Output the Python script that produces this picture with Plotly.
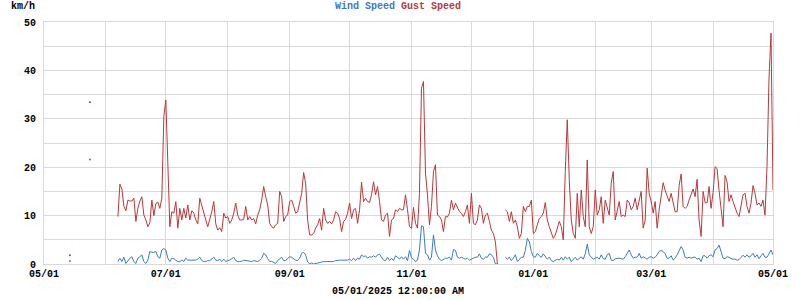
import plotly.graph_objects as go
import pandas as pd

START_DATE = "2024-05-01"
END_DATE = "2025-05-01"
TITLE_WIND = "Wind Speed"
TITLE_GUST = "Gust Speed"
UNIT_LABEL = "km/h"
FOOTER = "05/01/2025 12:00:00 AM"

# Daily gust speed (km/h), one entry per day from 2024-05-01 to 2025-05-01
gust_may = [None]*13 + [1.8] + [None]*9 + [33.4] + [None]*7
gust_jun = [None]*6 + [9.8, 16.5, 15.5, 11.9, 11.0, 13.2, 13.0, 13.0, 13.6, 8.8, 11.5, 13.0, 13.9, 10.1,
            9.1, 7.7, 8.5, 13.2, 10.0, 12.5, 12.8, 11.5, 13.6, 30.5]
gust_jul = [33.9, 19.0, 7.7, 10.8, 10.5, 12.9, 7.4, 11.5, 9.1, 11.5, 9.5, 12.2, 9.1, 11.0, 10.5, 9.1,
            8.3, 13.6, 11.9, 10.5, 9.1, 7.7, 9.1, 10.8, 12.9, 8.3, 7.0, 7.5, 6.7, 10.5, 9.5]
gust_aug = [9.8, 8.4, 9.1, 10.5, 12.6, 10.1, 9.1, 9.1, 9.2, 11.9, 9.1, 9.8, 9.1, 9.4, 8.3, 10.1,
            11.2, 13.2, 16.0, 13.9, 12.2, 8.4, 7.7, 7.4, 8.1, 8.4, 15.0, 13.9, 8.8, 9.8, 10.1]
gust_sep = [12.9, 13.2, 11.9, 10.5, 10.8, 12.6, 14.6, 18.9, 16.7, 9.1, 6.0, 6.0, 6.3, 7.4, 8.1, 9.4,
            7.0, 11.5, 9.1, 8.4, 8.8, 8.3, 9.1, 10.8, 10.5, 9.4, 6.7, 8.8, 9.2, 10.5]
gust_oct = [12.6, 9.4, 11.2, 11.5, 8.4, 11.2, 16.9, 12.9, 13.6, 12.9, 12.7, 14.3, 17.0, 14.3, 16.0, 12.9,
            9.1, 8.8, 10.1, 10.5, 5.7, 9.1, 9.4, 11.2, 10.8, 11.5, 11.2, 11.2, 14.3, 11.2, 7.7]
gust_nov = [7.4, 11.7, 8.4, 7.4, 14.6, 36.3, 37.7, 18.8, 14.3, 8.1, 11.9, 19.1, 20.5, 10.1, 9.8, 9.1,
            6.7, 9.8, 9.7, 10.5, 13.2, 11.2, 12.6, 11.5, 10.8, 10.5, 9.8, 10.8, 12.2, 8.4]
gust_dec = [14.6, 8.4, 8.1, 9.1, 12.2, 11.5, 8.4, 10.1, 10.5, 8.8, 7.0, 6.3, 4.6, 0.0, None, None, None,
            11.2, 10.8, 8.8, 10.8, 8.4, 9.1, 7.7, 5.3, 6.3, 11.9, 10.8, 11.9, 11.9, 13.2]
gust_jan = [6.3, 6.7, 8.1, 9.4, 9.8, 10.5, 12.7, 9.1, 7.7, 6.3, 5.3, 6.0, 7.4, 8.8, 7.7, 5.0,
            19.1, 29.8, 17.4, 9.1, 6.3, 5.3, 14.6, 7.7, 15.3, 9.8, 7.7, 21.5, 7.7, 6.3, 7.7]
gust_feb = [15.3, 10.1, 11.2, 13.9, 8.4, 13.2, 11.9, 10.1, 16.7, 19.1, 9.1, 11.2, 12.9, 9.8, 10.1, 9.8,
            13.2, 12.7, 11.2, 11.9, 13.6, 11.2, 13.2, 15.0, 7.4, 9.1, 19.8, 14.6]
gust_mar = [12.9, 10.5, 12.9, 7.4, 11.2, 14.6, 16.8, 15.2, 13.9, 12.9, 14.6, 12.6, 10.8, 10.8, 16.2, 18.6,
            11.9, 11.5, 11.9, 13.2, 14.6, 15.5, 13.9, 17.5, 9.1, 5.7, 15.0, 12.7, 12.6, 16.0, 11.5]
gust_apr = [14.8, 20.1, 19.7, 15.2, 10.8, 7.7, 18.3, 17.0, 12.9, 14.3, 12.9, 11.5, 10.5, 9.8, 12.2, 14.3,
            14.6, 11.9, 10.5, 12.6, 16.2, 14.6, 12.2, 12.6, 11.9, 13.2, 10.1, 20.1, 38.4, 47.7]
gust_may25 = [15.3]

# Daily wind speed (km/h)
wind_may = [None]*13 + [0.6] + [None]*9 + [21.6] + [None]*7
wind_jun = [None]*6 + [0.5, 1.2, 0.5, 1.4, 0.1, 0.7, 1.2, 1.5, 0.5, 0.1, 1.2, 1.5, 1.9, 0.5,
            0.1, 0.8, 2.6, 2.4, 2.4, 2.6, 1.5, 1.2, 2.9, 3.2]
wind_jul = [2.9, 1.2, 0.5, 1.2, 1.1, 0.8, 0.5, 0.5, 0.8, 0.5, 1.2, 0.8, 0.8, 0.7, 0.7, 0.8,
            1.0, 1.4, 0.7, 0.5, 0.5, 0.7, 0.7, 1.1, 1.4, 0.8, 0.7, 1.0, 0.5, 1.0, 0.5]
wind_aug = [0.7, 0.8, 1.1, 1.4, 0.7, 0.5, 0.5, 0.55, 0.8, 0.7, 0.7, 0.5, 0.5, 0.7, 0.55, 0.5,
            0.8, 1.2, 2.2, 1.9, 1.1, 0.5, 0.55, 0.3, 0.1, 0.7, 1.0, 1.4, 0.7, 0.7, 1.2]
wind_sep = [1.5, 1.4, 1.1, 0.8, 0.7, 1.2, 2.2, 2.4, 1.9, 0.4, 0.1, 0.2, 0.0, 0.1, 0.3, 0.35,
            0.4, 0.5, 0.5, 0.5, 0.5, 0.5, 0.5, 0.7, 0.8, 0.8, 0.8, 0.8, 0.7, 0.8]
wind_oct = [1.0, 0.7, 1.2, 0.7, 1.2, 1.0, 1.9, 1.5, 1.7, 1.2, 1.5, 1.4, 1.7, 1.4, 1.9, 2.0,
            1.4, 0.8, 0.7, 1.4, 0.7, 1.2, 0.7, 1.7, 1.4, 1.0, 1.5, 1.0, 1.5, 0.7, 2.8]
wind_nov = [1.3, 1.0, 0.5, 0.8, 2.9, 7.9, 7.7, 2.2, 1.9, 0.8, 1.4, 6.0, 2.9, 1.7, 1.0, 0.7,
            1.0, 1.2, 1.2, 1.4, 0.8, 3.0, 2.8, 1.4, 1.2, 1.4, 1.2, 1.0, 1.2, 0.8]
wind_dec = [1.0, 1.2, 1.4, 1.4, 2.1, 1.2, 1.0, 1.4, 1.4, 2.1, 1.9, 1.4, 0.0, 0.0, None, None, None,
            1.4, 1.0, 1.4, 0.7, 1.2, 1.9, 0.5, 1.0, 1.4, 1.4, 2.8, 5.3, 4.6, 2.6]
wind_jan = [1.5, 1.4, 2.2, 1.7, 1.4, 2.1, 1.5, 1.0, 1.4, 0.7, 0.5, 0.7, 1.0, 0.8, 1.4, 0.8,
            1.5, 1.0, 1.4, 0.5, 1.0, 1.4, 0.8, 1.2, 1.5, 1.0, 2.1, 4.1, 1.9, 1.4, 1.0]
wind_feb = [1.2, 1.4, 1.0, 1.9, 1.1, 1.0, 1.9, 2.2, 0.8, 0.7, 1.1, 1.2, 1.2, 1.1, 1.0, 1.5,
            2.1, 2.9, 1.9, 1.2, 1.4, 1.4, 2.2, 1.2, 1.5, 1.2, 1.0, 1.4]
wind_mar = [1.5, 1.2, 1.4, 1.9, 2.6, 2.8, 2.6, 2.1, 1.2, 1.2, 1.7, 0.8, 1.2, 1.9, 2.6, 3.6,
            2.9, 1.4, 1.2, 1.4, 1.2, 1.4, 1.4, 1.0, 1.2, 0.5, 1.7, 1.7, 1.2, 1.7, 1.9]
wind_apr = [1.5, 2.9, 3.2, 3.9, 2.6, 1.2, 1.1, 1.5, 1.4, 1.1, 1.0, 1.0, 0.8, 0.9, 1.4, 1.8,
            1.4, 1.9, 1.4, 1.7, 2.2, 1.4, 1.9, 1.1, 1.7, 2.2, 1.4, 1.4, 2.1, 2.9]
wind_may25 = [1.9]

gust = (gust_may + gust_jun + gust_jul + gust_aug + gust_sep + gust_oct + gust_nov + gust_dec
        + gust_jan + gust_feb + gust_mar + gust_apr + gust_may25)
wind = (wind_may + wind_jun + wind_jul + wind_aug + wind_sep + wind_oct + wind_nov + wind_dec
        + wind_jan + wind_feb + wind_mar + wind_apr + wind_may25)

dates = pd.date_range(START_DATE, periods=len(gust), freq="D")

RED = "#b7393c"
BLUE = "#3a7cbd"
GRID = "#d9d9d9"
FONT = "Liberation Mono"


def isolated(vals):
    idx = []
    for i, v in enumerate(vals):
        if v is None:
            continue
        prev_none = i == 0 or vals[i - 1] is None
        next_none = i == len(vals) - 1 or vals[i + 1] is None
        if prev_none and next_none:
            idx.append(i)
    return idx


fig = go.Figure()
for vals, color in ((wind, BLUE), (gust, RED)):
    fig.add_trace(go.Scatter(x=dates, y=vals, mode="lines", line=dict(color=color, width=1),
                             connectgaps=False, hoverinfo="skip"))
    iso = isolated(vals)
    fig.add_trace(go.Scatter(x=[dates[i] for i in iso], y=[vals[i] for i in iso], mode="markers",
                             marker=dict(color=color, size=2, line=dict(width=0)), hoverinfo="skip"))

fig.update_layout(
    width=800, height=300,
    margin=dict(l=44, r=22, t=22, b=36),
    paper_bgcolor="white", plot_bgcolor="white",
    showlegend=False,
    font=dict(family=FONT, size=10, color="black"),
)
fig.update_xaxes(
    type="date", range=[START_DATE, END_DATE],
    tick0=START_DATE, dtick="M2", tickformat="%m/%d",
    showgrid=True, gridcolor=GRID, gridwidth=1,
    minor=dict(dtick="M1", tick0=START_DATE, showgrid=True, gridcolor=GRID, gridwidth=1),
    showline=True, linecolor=GRID, linewidth=1, mirror=True,
    ticks="", zeroline=False,
    tickfont=dict(family=FONT, size=10, color="black", weight="bold"),
)
fig.update_yaxes(
    range=[0, 50], dtick=10, tick0=0,
    showgrid=True, gridcolor=GRID, gridwidth=1,
    minor=dict(dtick=5, showgrid=True, gridcolor=GRID, gridwidth=1),
    showline=True, linecolor=GRID, linewidth=1, mirror=True,
    ticks="", zeroline=False, ticklabelstandoff=5,
    tickfont=dict(family=FONT, size=10, color="black", weight="bold"),
)

fig.add_annotation(
    xref="paper", yref="paper", x=0.485, y=1.066, xanchor="center", yanchor="middle",
    showarrow=False,
    text=f"<span style='color:{BLUE}'>{TITLE_WIND}</span> <span style='color:{RED}'>{TITLE_GUST}</span>",
    font=dict(family=FONT, size=10, weight="bold"),
)
fig.add_annotation(
    xref="paper", yref="paper", x=-0.0477, y=1.066, xanchor="left", yanchor="middle",
    showarrow=False, text=UNIT_LABEL,
    font=dict(family=FONT, size=10, color="black", weight="bold"),
)
fig.add_annotation(
    xref="paper", yref="paper", x=0.485, y=-0.1157, xanchor="center", yanchor="middle",
    showarrow=False, text=FOOTER,
    font=dict(family=FONT, size=10, color="black", weight="bold"),
)

fig.write_html("out.html")
